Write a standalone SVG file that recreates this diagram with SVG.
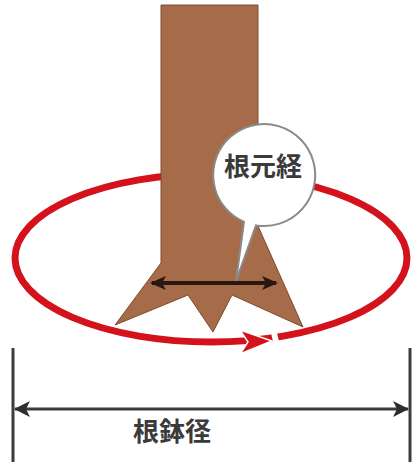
<svg xmlns="http://www.w3.org/2000/svg" width="413" height="467" viewBox="0 0 413 467">
  <style>
    .label { font-family: "Noto Sans CJK JP", "Noto Sans", sans-serif; font-size: 26px; font-weight: bold; fill: #3a3a3a; }
    .ring { fill: none; stroke: #d3121c; stroke-width: 7; }
    .dim { stroke: #3c3c3c; stroke-width: 3; fill: none; }
    .root-dim { stroke: #2a1810; stroke-width: 4; fill: none; }
  </style>
  <defs>
    <marker id="headDark" viewBox="0 0 16 14" refX="14" refY="7" markerWidth="16" markerHeight="14" markerUnits="userSpaceOnUse" orient="auto-start-reverse">
      <path d="M0,0 L16,7 L0,14 L4,7 Z" fill="#2a1810"/>
    </marker>
    <marker id="headGray" viewBox="0 0 16 16" refX="15" refY="8" markerWidth="16" markerHeight="16" markerUnits="userSpaceOnUse" orient="auto-start-reverse">
      <path d="M0,0 L16,8 L0,16 L4,8 Z" fill="#2e2e2e"/>
    </marker>
  </defs>
  <rect width="413" height="467" fill="#ffffff"/>

  <!-- root ball ring (drawn behind the trunk) -->
  <g id="ring">
    <ellipse class="ring" cx="211" cy="258" rx="196" ry="84"/>
    <!-- break in the ring after the direction arrow -->
    <path d="M271,333 L277,333 L281,350 L275,350 Z" fill="#ffffff"/>
    <path d="M240,330 L272,341 L240,354 L248,342 Z" fill="#d3121c" stroke="#ffffff" stroke-width="1.5"/>
  </g>

  <!-- trunk with flared roots -->
  <g id="trunk">
    <path d="M161,5 L258,5 L258,226 L303,327 L232,295 L213,332 L188,295 L115,325 L161,263 Z" fill="#a66b48" stroke="#7c4c31" stroke-width="1"/>
  </g>

  <!-- callout bubble -->
  <g id="bubble">
    <path d="M256,225.4 L236,281 L244,221.9 A51,51 0 1 1 256,225.4 Z" fill="#ffffff" stroke="#8a8a8a" stroke-width="2"/>
    <text class="label" x="263" y="176" text-anchor="middle">根元経</text>
  </g>

  <!-- dimension lines -->
  <g id="connectors">
    <line class="root-dim" x1="152" y1="283" x2="276" y2="283" marker-start="url(#headDark)" marker-end="url(#headDark)"/>
    <line class="dim" x1="13" y1="348" x2="13" y2="462"/>
    <line class="dim" x1="410" y1="348" x2="410" y2="462"/>
    <line class="dim" x1="15" y1="409" x2="408" y2="409" marker-start="url(#headGray)" marker-end="url(#headGray)"/>
  </g>

  <g id="root-ball-label">
    <text class="label" x="133" y="441">根鉢径</text>
  </g>
</svg>
